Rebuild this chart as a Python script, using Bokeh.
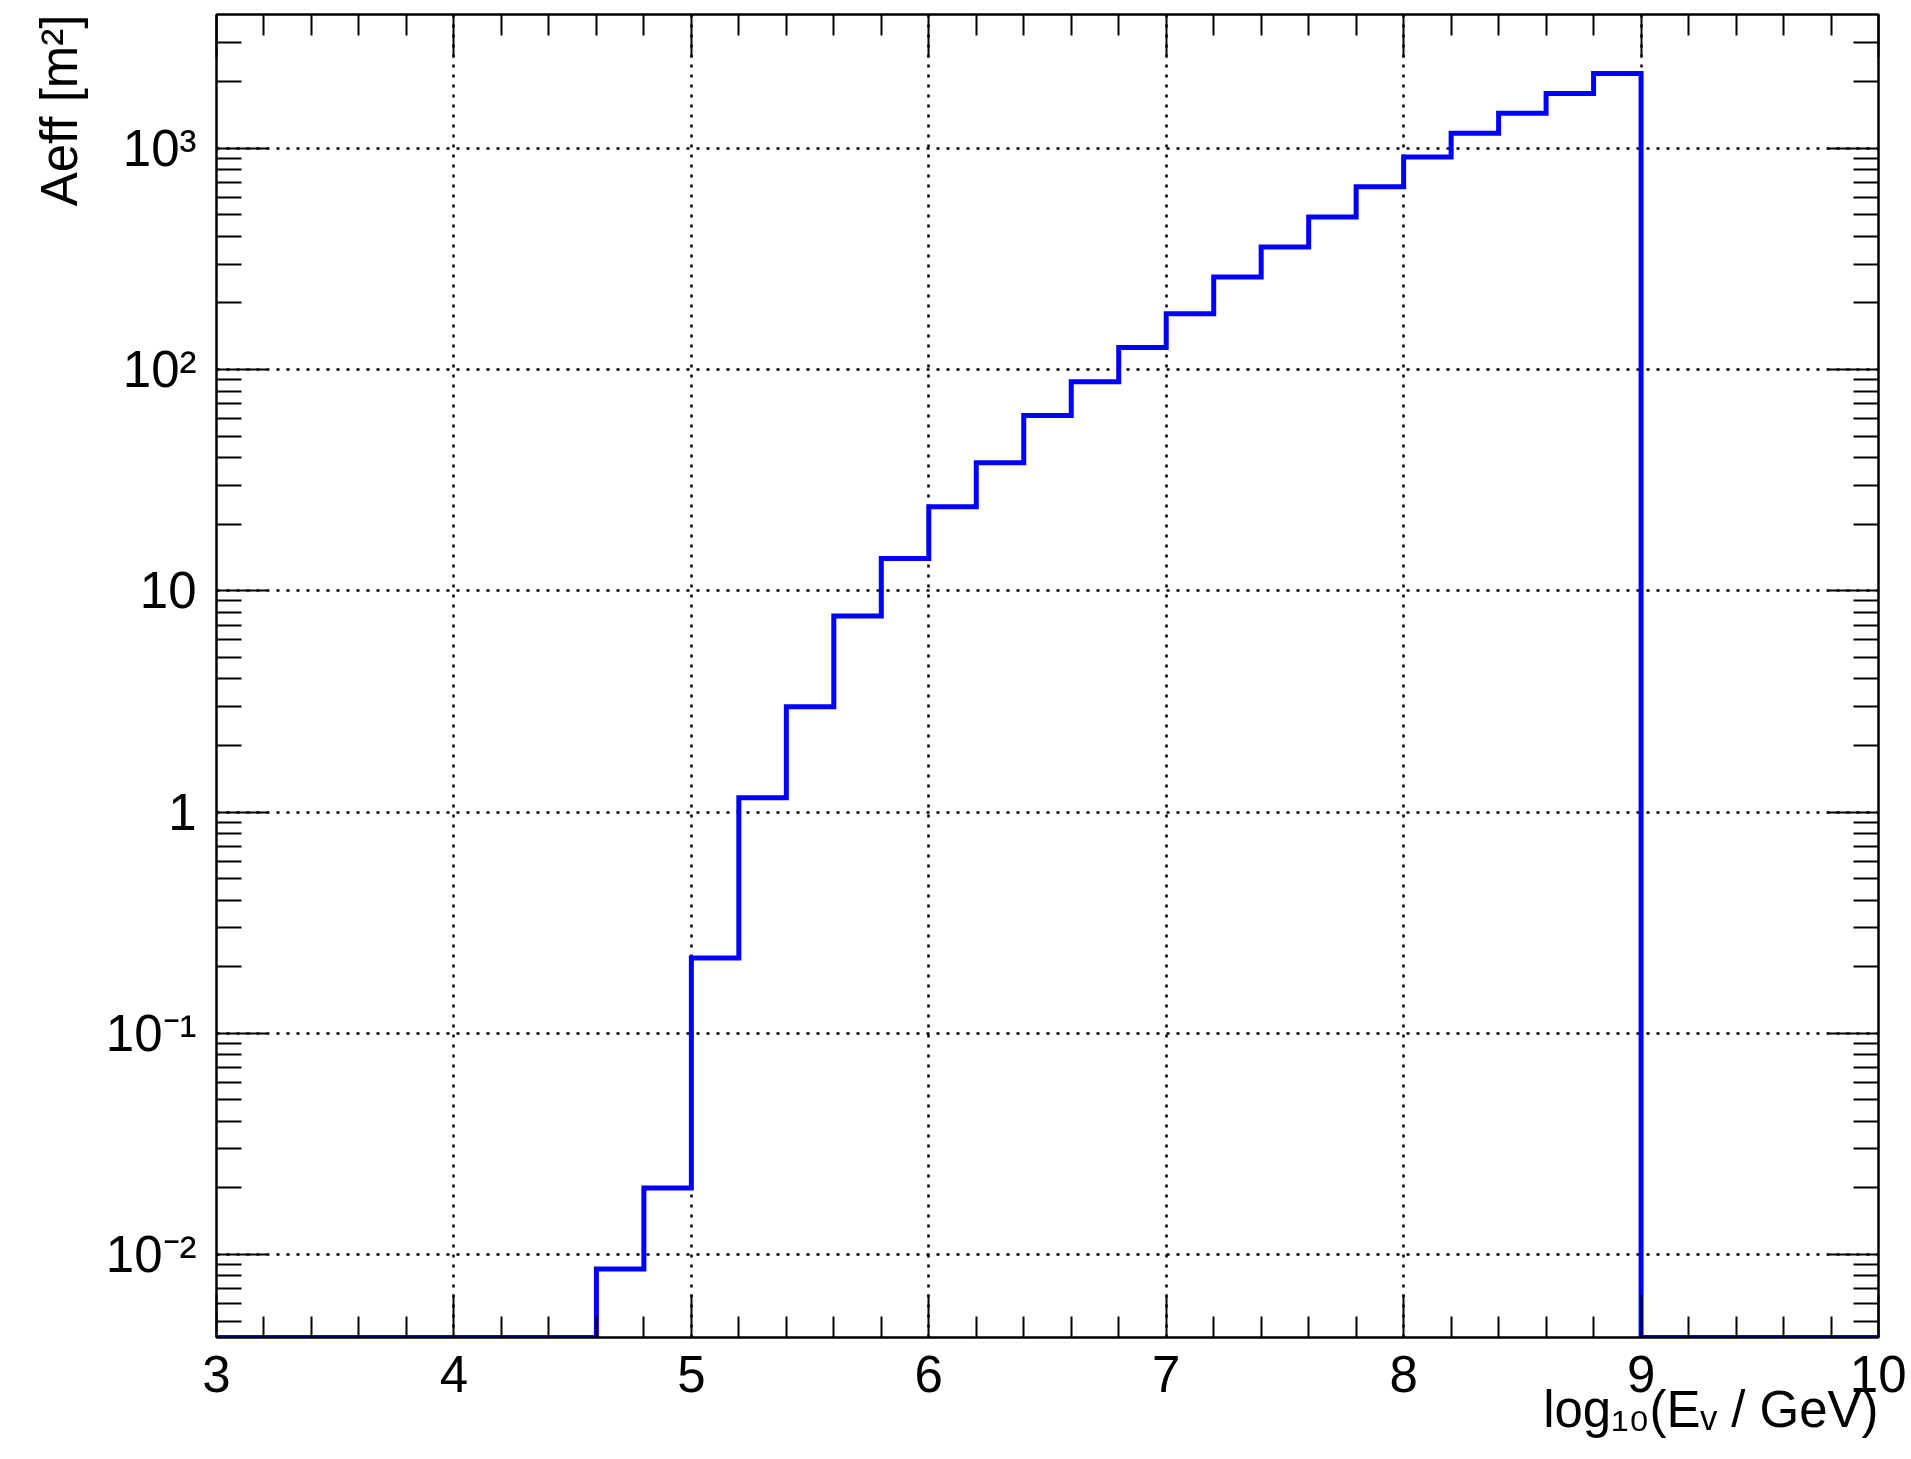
from bokeh.plotting import figure
from bokeh.models import Range1d, FixedTicker, LinearAxis, LogAxis, ColumnDataSource, Title
from bokeh.embed import file_html
from bokeh.resources import INLINE

# ---------------- data ----------------
bin_edges = [3.0, 3.2, 3.4, 3.6, 3.8, 4.0, 4.2, 4.4, 4.6, 4.8,
             5.0, 5.2, 5.4, 5.6, 5.8, 6.0, 6.2, 6.4, 6.6, 6.8,
             7.0, 7.2, 7.4, 7.6, 7.8, 8.0, 8.2, 8.4, 8.6, 8.8,
             9.0, 9.2, 9.4, 9.6, 9.8, 10.0]
aeff = [0, 0, 0, 0, 0, 0, 0, 0,
        0.0086, 0.020, 0.219, 1.16, 2.99, 7.7, 14.0, 24.0, 37.9, 62.0, 88.0, 126.0,
        179.0, 262.0, 358.0, 490.0, 670.0, 915.0, 1170.0, 1440.0, 1770.0, 2180.0,
        0, 0, 0, 0, 0]

x_major_ticks = [3, 4, 5, 6, 7, 8, 9, 10]
x_minor_ticks = [3.2, 3.4, 3.6, 3.8, 4.2, 4.4, 4.6, 4.8, 5.2, 5.4, 5.6, 5.8,
                 6.2, 6.4, 6.6, 6.8, 7.2, 7.4, 7.6, 7.8, 8.2, 8.4, 8.6, 8.8,
                 9.2, 9.4, 9.6, 9.8]
x_tick_labels = ["3", "4", "5", "6", "7", "8", "9", "10"]

y_major_ticks = [0.01, 0.1, 1, 10, 100, 1000]
y_minor_ticks = [0.005, 0.006, 0.007, 0.008, 0.009,
                 0.02, 0.03, 0.04, 0.05, 0.06, 0.07, 0.08, 0.09,
                 0.2, 0.3, 0.4, 0.5, 0.6, 0.7, 0.8, 0.9,
                 2, 3, 4, 5, 6, 7, 8, 9,
                 20, 30, 40, 50, 60, 70, 80, 90,
                 200, 300, 400, 500, 600, 700, 800, 900,
                 2000, 3000]
y_tick_labels = ["10\u207b\u00b2", "10\u207b\u00b9", "1", "10", "10\u00b2", "10\u00b3"]

x_title = "log\u2081\u2080(E\u1d65 / GeV)"
y_title = "Aeff [m\u00b2]"

# ---------------- layout ----------------
FONT = "Liberation Sans"
X0, X1 = 3.0, 10.0
LOG_Y0, LOG_Y1 = -2.375, 3.605
W, H = 1906, 1456
BL, BT = 216, 14
FW, FH = 1662, 1323
BR, BB = W - BL - FW, H - BT - FH

p = figure(width=W, height=H, x_range=Range1d(X0, X1),
           y_range=Range1d(10 ** LOG_Y0, 10 ** LOG_Y1), y_axis_type="log",
           output_backend="svg", toolbar_location=None,
           min_border_left=BL, min_border_right=BR, min_border_top=BT, min_border_bottom=BB)
p.background_fill_color = "white"
p.border_fill_color = "white"
p.outline_line_color = "black"
p.outline_line_width = 2

bottom = p.below[0]
left = p.left[0]
top = LinearAxis()
right = LogAxis()
p.add_layout(top, "above")
p.add_layout(right, "right")

for ax in [bottom, top]:
    ax.ticker = FixedTicker(ticks=x_major_ticks, minor_ticks=x_minor_ticks)
    ax.major_tick_in = 43
    ax.major_tick_out = 0
    ax.minor_tick_in = 21
    ax.minor_tick_out = 0
for ax in [left, right]:
    ax.ticker = FixedTicker(ticks=y_major_ticks, minor_ticks=y_minor_ticks)
    ax.major_tick_in = 51
    ax.major_tick_out = 0
    ax.minor_tick_in = 25
    ax.minor_tick_out = 0
for ax in [bottom, top, left, right]:
    ax.axis_line_color = "black"
    ax.axis_line_width = 2
    ax.major_tick_line_color = "black"
    ax.major_tick_line_width = 2
    ax.minor_tick_line_color = "black"
    ax.minor_tick_line_width = 2
for ax in [top, right]:
    ax.major_label_text_font_size = "1px"
    ax.major_label_text_alpha = 0
    ax.major_label_standoff = 0

bottom.major_label_overrides = {t: s for t, s in zip(x_major_ticks, x_tick_labels)}
bottom.major_label_text_font = FONT
bottom.major_label_text_font_size = "51px"
bottom.major_label_text_color = "black"
bottom.major_label_standoff = 18

left.major_label_overrides = {t: s for t, s in zip(y_major_ticks, y_tick_labels)}
left.major_label_text_font = FONT
left.major_label_text_font_size = "51px"
left.major_label_text_color = "black"
left.major_label_standoff = 20

# axis titles (right / top aligned, as in ROOT)
p.add_layout(Title(text=x_title, align="right", text_font=FONT, text_font_size="51px",
                   text_font_style="normal", text_color="black", standoff=-31), "below")
p.add_layout(Title(text=y_title, align="right", text_font=FONT, text_font_size="51px",
                   text_font_style="normal", text_color="black", standoff=29), "left")

# grids
p.xgrid[0].ticker = FixedTicker(ticks=x_major_ticks)
p.ygrid[0].ticker = FixedTicker(ticks=y_major_ticks)
for g in [p.xgrid[0], p.ygrid[0]]:
    g.grid_line_color = "black"
    g.grid_line_dash = "3 7"
    g.grid_line_width = 2.5

# histogram (empty bins drawn on the frame floor, as ROOT does)
floor = 10 ** LOG_Y0
yvals = [v if v > 0 else floor for v in aeff]
src = ColumnDataSource(dict(x=bin_edges, y=yvals + [yvals[-1]]))
p.step(x="x", y="y", source=src, mode="after", line_color="#0000ff",
       line_width=5, line_join="miter")

open("out.html", "w").write(file_html(p, INLINE))
